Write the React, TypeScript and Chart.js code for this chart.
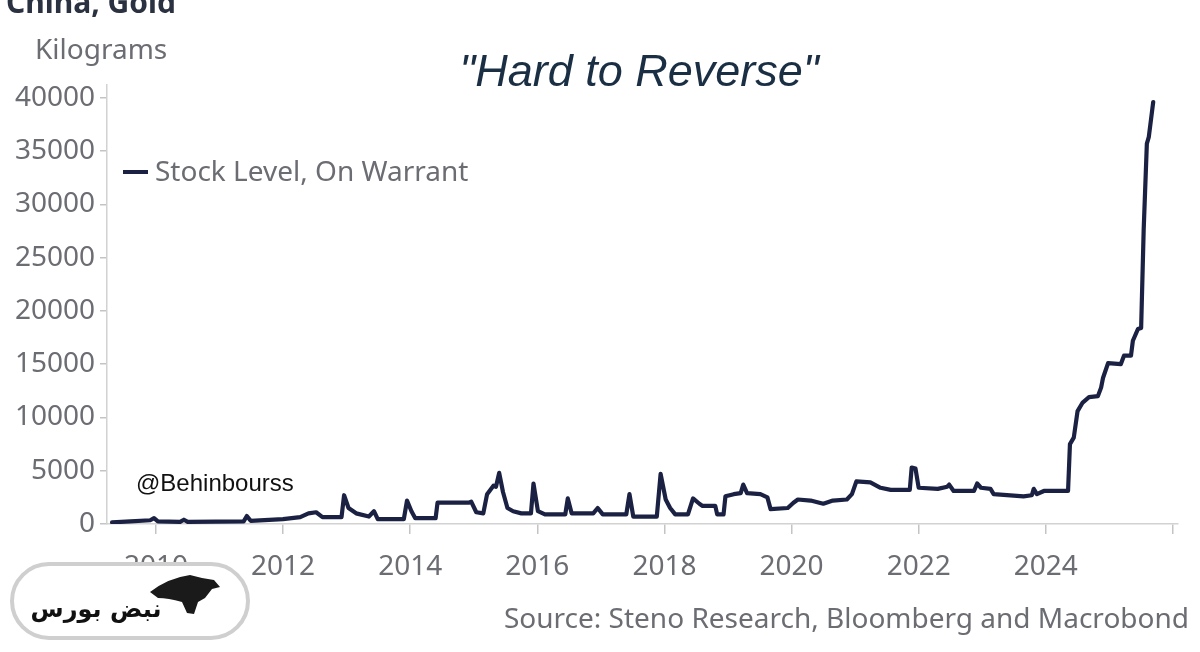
import React, { useEffect, useRef } from 'react';
import { Chart, registerables } from 'chart.js';

Chart.register(...registerables);

// Decimal years of each observation
const dates: number[] = [
  2009.31, 2009.6, 2009.91, 2009.97, 2010.03, 2010.38, 2010.44, 2010.5, 2011.38, 2011.43,
  2011.49, 2012.0, 2012.27, 2012.4, 2012.52, 2012.62, 2012.92, 2012.96, 2013.03, 2013.15,
  2013.35, 2013.43, 2013.49, 2013.9, 2013.95, 2014.02, 2014.08, 2014.4, 2014.43, 2014.92,
  2014.96, 2015.04, 2015.15, 2015.21, 2015.31, 2015.35, 2015.4, 2015.46, 2015.53, 2015.62,
  2015.75, 2015.9, 2015.94, 2016.01, 2016.12, 2016.44, 2016.48, 2016.54, 2016.88, 2016.95,
  2017.03, 2017.4, 2017.45, 2017.51, 2017.88, 2017.94, 2018.02, 2018.09, 2018.17, 2018.37,
  2018.45, 2018.55, 2018.6, 2018.8, 2018.83, 2018.93, 2018.96, 2019.09, 2019.2, 2019.24,
  2019.3, 2019.51, 2019.62, 2019.67, 2019.94, 2020.03, 2020.1, 2020.3, 2020.5, 2020.65,
  2020.87, 2020.95, 2021.02, 2021.24, 2021.4, 2021.56, 2021.86, 2021.89, 2021.95, 2022.0,
  2022.3, 2022.45, 2022.48, 2022.55, 2022.87, 2022.92, 2022.98, 2023.13, 2023.18, 2023.65,
  2023.78, 2023.81, 2023.86, 2023.97, 2024.35, 2024.38, 2024.44, 2024.5, 2024.58, 2024.68,
  2024.82, 2024.87, 2024.9, 2024.98, 2025.18, 2025.23, 2025.34, 2025.37, 2025.45, 2025.5,
  2025.54, 2025.59, 2025.62, 2025.69,
];

// Stock level, on warrant (kilograms)
const stockLevel: number[] = [
  150, 250, 350, 550, 250, 200, 400, 200, 250, 750,
  300, 450, 650, 1000, 1100, 650, 650, 2700, 1500, 1000,
  700, 1200, 450, 450, 2200, 1200, 550, 550, 2000, 2000,
  2100, 1100, 1000, 2800, 3600, 3500, 4800, 3000, 1500, 1200,
  1000, 1000, 3800, 1200, 900, 900, 2400, 1000, 1000, 1500,
  900, 900, 2800, 700, 700, 4700, 2300, 1500, 900, 900,
  2400, 1900, 1700, 1700, 900, 900, 2600, 2800, 2900, 3700,
  2900, 2800, 2500, 1400, 1500, 2000, 2300, 2200, 1900, 2200,
  2300, 2800, 4000, 3900, 3400, 3200, 3200, 5300, 5200, 3400,
  3300, 3500, 3700, 3100, 3100, 3800, 3400, 3300, 2800, 2600,
  2700, 3300, 2800, 3100, 3100, 7500, 8100, 10600, 11400, 11900,
  12000, 12800, 13700, 15100, 15000, 15800, 15800, 17200, 18300, 18400,
  27600, 35700, 36300, 39600,
];

const yTickValues: number[] = [0, 5000, 10000, 15000, 20000, 25000, 30000, 35000, 40000];
const xTickValues: number[] = [2010, 2012, 2014, 2016, 2018, 2020, 2022, 2024, 2026];
const xTickLabels: string[] = ['2010', '2012', '2014', '2016', '2018', '2020', '2022', '2024', ''];

const seriesName = 'Stock Level, On Warrant';
const chartTitle = 'China, Gold';
const unitLabel = 'Kilograms';
const headline = '"Hard to Reverse"';
const sourceText = 'Source: Steno Research, Bloomberg and Macrobond';
const watermark = '@Behinbourss';
const logoText = 'نبض بورس';

const LINE = '#1b2142';
const GREY = '#6b6d73';
const SANS = '"Noto Sans", "Open Sans", sans-serif';

const overlay = {
  id: 'overlay',
  afterDraw(chart: any) {
    const ctx: CanvasRenderingContext2D = chart.ctx;
    ctx.save();
    // title (cropped at top)
    ctx.fillStyle = '#2a3140';
    ctx.font = `bold 30px ${SANS}`;
    ctx.textAlign = 'left';
    ctx.textBaseline = 'alphabetic';
    ctx.fillText(chartTitle, 6, 13);

    // unit
    ctx.fillStyle = GREY;
    ctx.font = `28px ${SANS}`;
    ctx.textBaseline = 'middle';
    ctx.fillText(unitLabel, 35, 51);

    // headline
    ctx.fillStyle = '#1a2e44';
    ctx.font = `italic 45px "Liberation Sans", Arial, sans-serif`;
    ctx.textAlign = 'center';
    ctx.fillText(headline, 639, 73);

    // legend
    ctx.strokeStyle = LINE;
    ctx.lineWidth = 4;
    ctx.beginPath();
    ctx.moveTo(123, 172);
    ctx.lineTo(148, 172);
    ctx.stroke();
    ctx.fillStyle = GREY;
    ctx.font = `28px ${SANS}`;
    ctx.textAlign = 'left';
    ctx.fillText(seriesName, 155, 173);

    // watermark
    ctx.fillStyle = '#111';
    ctx.font = `24px "Liberation Sans", Arial, sans-serif`;
    ctx.fillText(watermark, 136, 484);

    // source
    ctx.fillStyle = GREY;
    ctx.font = `28px ${SANS}`;
    ctx.textAlign = 'right';
    ctx.fillText(sourceText, 1189, 620);

    // logo badge
    const bx = 12, by = 564, bw = 236, bh = 74, r = 37;
    ctx.beginPath();
    ctx.moveTo(bx + r, by);
    ctx.lineTo(bx + bw - r, by);
    ctx.arc(bx + bw - r, by + r, r, -Math.PI / 2, Math.PI / 2);
    ctx.lineTo(bx + r, by + bh);
    ctx.arc(bx + r, by + r, r, Math.PI / 2, (3 * Math.PI) / 2);
    ctx.closePath();
    ctx.fillStyle = '#ffffff';
    ctx.fill();
    ctx.strokeStyle = '#cfcfcf';
    ctx.lineWidth = 4;
    ctx.stroke();
    // bull silhouette (decorative)
    ctx.fillStyle = '#1a1a1a';
    ctx.beginPath();
    ctx.moveTo(150, 592);
    ctx.quadraticCurveTo(168, 578, 190, 575);
    ctx.lineTo(202, 578);
    ctx.lineTo(214, 580);
    ctx.lineTo(220, 587);
    ctx.lineTo(212, 589);
    ctx.lineTo(205, 598);
    ctx.lineTo(198, 602);
    ctx.lineTo(194, 614);
    ctx.lineTo(187, 613);
    ctx.lineTo(182, 602);
    ctx.quadraticCurveTo(168, 598, 158, 598);
    ctx.closePath();
    ctx.fill();
    ctx.fillStyle = '#111';
    ctx.font = `bold 24px "DejaVu Sans", sans-serif`;
    ctx.textAlign = 'center';
    ctx.direction = 'rtl';
    ctx.fillText(logoText, 96, 611);
    ctx.restore();
  },
};

export default function App() {
  const ref = useRef<HTMLCanvasElement>(null);
  useEffect(() => {
    document.body.style.margin = '0';
    const chart = new Chart(ref.current as HTMLCanvasElement, {
      type: 'line',
      data: {
        datasets: [
          {
            label: seriesName,
            data: dates.map((d, i) => ({ x: d, y: stockLevel[i] })),
            borderColor: LINE,
            borderWidth: 4.2,
            pointRadius: 0,
            tension: 0,
            fill: false,
            borderJoinStyle: 'round',
            borderCapStyle: 'round',
          },
        ],
      },
      options: {
        animation: false,
        responsive: false,
        layout: { padding: { top: 85, right: 22, left: 0, bottom: 0 } },
        plugins: { legend: { display: false }, tooltip: { enabled: false }, title: { display: false } },
        scales: {
          x: {
            type: 'linear',
            min: 2009.23,
            max: 2026.08,
            afterBuildTicks: (s: any) => {
              s.ticks = xTickValues.map((v) => ({ value: v }));
            },
            afterFit: (s: any) => {
              s.height = 128;
            },
            grid: { drawOnChartArea: false, drawTicks: true, tickLength: 10, color: '#c4c4c4', lineWidth: 1.5 },
            border: { color: '#d2d2d2', width: 1.5 },
            ticks: {
              autoSkip: false,
              maxRotation: 0,
              padding: 16,
              color: GREY,
              font: { family: SANS, size: 28 },
              callback: (v: any) => {
                const i = xTickValues.indexOf(Number(v));
                return i >= 0 ? xTickLabels[i] : '';
              },
            },
          },
          y: {
            min: 0,
            max: 41200,
            afterBuildTicks: (s: any) => {
              s.ticks = yTickValues.map((v) => ({ value: v }));
            },
            afterFit: (s: any) => {
              s.width = 107;
            },
            grid: { drawOnChartArea: false, drawTicks: true, tickLength: 7, color: '#c4c4c4', lineWidth: 1.5 },
            border: { color: '#d2d2d2', width: 1.5 },
            ticks: {
              padding: 5,
              color: GREY,
              font: { family: SANS, size: 28 },
              callback: (v: any) => String(v),
            },
          },
        },
      },
      plugins: [overlay],
    });
    return () => chart.destroy();
  }, []);
  return (
    <div style={{ position: 'absolute', left: 0, top: 0, width: 1200, height: 652, background: '#fff' }}>
      <canvas ref={ref} width={1200} height={652} style={{ width: 1200, height: 652, display: 'block' }} />
    </div>
  );
}
